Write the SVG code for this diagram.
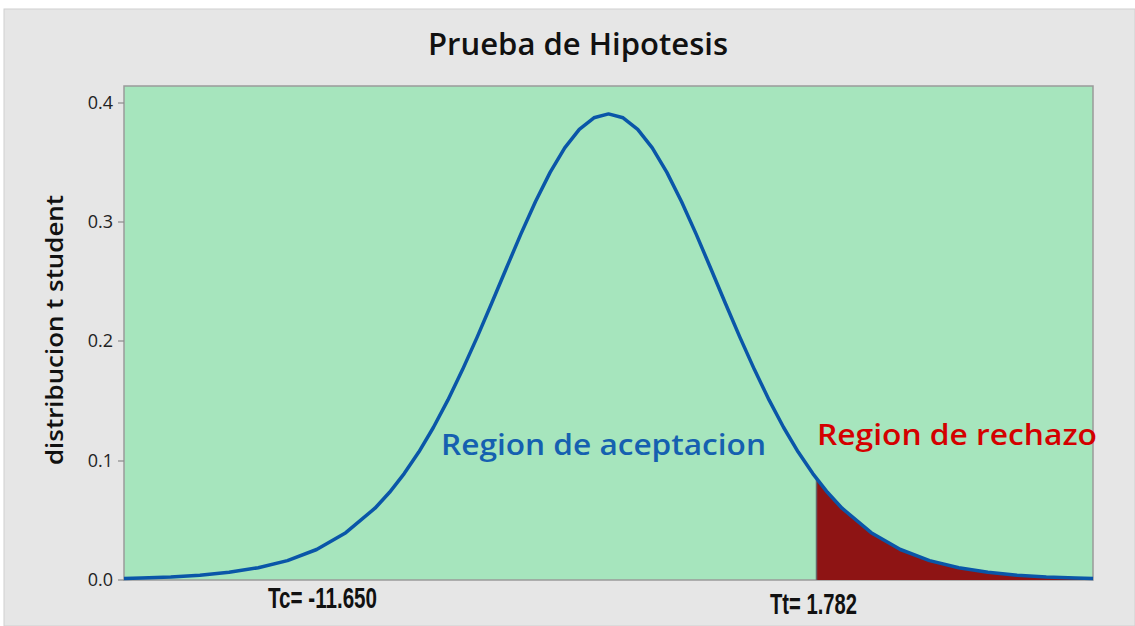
<svg xmlns="http://www.w3.org/2000/svg" width="1135" height="626" viewBox="0 0 1135 626">
<style>
.tick{font-family:"Open Sans","Noto Sans",sans-serif;font-size:18px;fill:#222;text-anchor:end}
.tl{stroke:#8a8a8a;stroke-width:1.2}
.cond{font-family:"Liberation Sans",sans-serif;font-weight:bold;font-size:30px;fill:#111}
</style>
<rect x="0" y="0" width="1135" height="626" fill="#ffffff"/>
<rect x="4" y="9" width="1131" height="617" fill="#e6e6e6" stroke="#d0d0d0" stroke-width="1"/>
<text x="578" y="55" font-family="Open Sans, Noto Sans, sans-serif" font-weight="600" font-size="30" fill="#111" text-anchor="middle" textLength="300" lengthAdjust="spacingAndGlyphs">Prueba de Hipotesis</text>
<g id="plot">
<rect x="124" y="86" width="969" height="494" fill="#a6e5bd" stroke="#9a9a9a" stroke-width="1.5"/>
</g>
<g id="axis">
<line class="tl" x1="118" y1="103" x2="124" y2="103"/>
<line class="tl" x1="118" y1="222" x2="124" y2="222"/>
<line class="tl" x1="118" y1="341" x2="124" y2="341"/>
<line class="tl" x1="118" y1="461" x2="124" y2="461"/>
<line class="tl" x1="118" y1="580" x2="124" y2="580"/>
<text class="tick" x="113" y="109">0.4</text>
<text class="tick" x="113" y="228">0.3</text>
<text class="tick" x="113" y="347">0.2</text>
<text class="tick" x="113" y="467">0.1</text>
<text class="tick" x="113" y="586">0.0</text>
<text transform="translate(63,330) rotate(-90)" font-family="Open Sans, Noto Sans, sans-serif" font-weight="600" font-size="24" fill="#111" text-anchor="middle" textLength="270" lengthAdjust="spacingAndGlyphs">distribucion t student</text>
</g>
<g id="rechazo">
<polygon points="816.5,580 816.5,478.7 827.41,492.3 842,508.2 871.19,532.7 900.38,549.5 929.56,560.6 958.75,567.7 987.94,572.3 1017.13,575.2 1046.31,577 1075.5,578.1 1093,578.6 1093,580" fill="#8e1414"/>
<line x1="816.5" y1="478.7" x2="816.5" y2="580" stroke="#666" stroke-width="1.5"/>
</g>
<g id="curve">
<polyline fill="none" stroke="#0a56a8" stroke-width="3.5" stroke-linejoin="round" points="124,578.6 141.5,578.1 170.69,577 199.87,575.2 229.06,572.3 258.25,567.7 287.44,560.6 316.62,549.5 345.81,532.7 375,508.2 389.59,492.3 404.19,473.6 418.78,452.1 433.37,427.5 447.97,399.9 462.56,369.6 477.16,337.1 491.75,303 506.34,268.2 520.94,233.9 535.53,201.5 550.12,172.4 564.72,147.9 579.31,129.4 593.91,117.8 608.5,113.9 623.09,117.8 637.69,129.4 652.28,147.9 666.88,172.4 681.47,201.5 696.06,233.9 710.66,268.2 725.25,303 739.84,337.1 754.44,369.6 769.03,399.9 783.63,427.5 798.22,452.1 812.81,473.6 827.41,492.3 842,508.2 871.19,532.7 900.38,549.5 929.56,560.6 958.75,567.7 987.94,572.3 1017.13,575.2 1046.31,577 1075.5,578.1 1093,578.6"/>
</g>
<g id="labels">
<text x="441" y="455" font-family="Open Sans, Noto Sans, sans-serif" font-weight="600" font-size="28" fill="#1560b0" textLength="325" lengthAdjust="spacingAndGlyphs">Region de aceptacion</text>
<text x="817" y="445" font-family="Open Sans, Noto Sans, sans-serif" font-weight="600" font-size="28" fill="#d40000" textLength="280" lengthAdjust="spacingAndGlyphs">Region de rechazo</text>
<text class="cond" x="268" y="608" textLength="109" lengthAdjust="spacingAndGlyphs">Tc= -11.650</text>
<text class="cond" x="770" y="614" textLength="87" lengthAdjust="spacingAndGlyphs">Tt= 1.782</text>
</g>
</svg>
